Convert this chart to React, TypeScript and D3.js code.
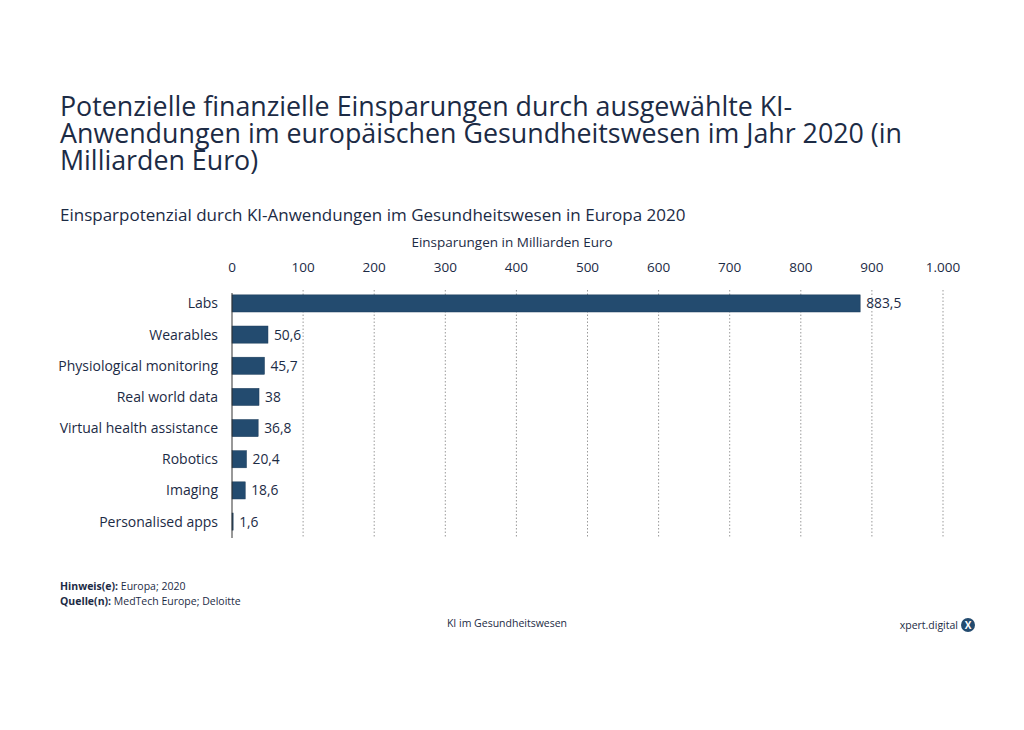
import * as d3 from 'd3';

const categories = [
  'Labs',
  'Wearables',
  'Physiological monitoring',
  'Real world data',
  'Virtual health assistance',
  'Robotics',
  'Imaging',
  'Personalised apps',
];
const savings = [883.5, 50.6, 45.7, 38, 36.8, 20.4, 18.6, 1.6];
const xTicks = [0, 100, 200, 300, 400, 500, 600, 700, 800, 900, 1000];

const titleLines = [
  'Potenzielle finanzielle Einsparungen durch ausgewählte KI-',
  'Anwendungen im europäischen Gesundheitswesen im Jahr 2020 (in',
  'Milliarden Euro)',
];

const font = '"Open Sans", "Noto Sans", sans-serif';
const textColor = '#1c2b45';
const barColor = '#234b6f';

const fmt = (v: number) => String(v).replace('.', ',');

export default function App() {
  const x = d3.scaleLinear().domain([0, 1000]).range([232, 943]);
  const y = d3.scaleBand().domain(categories).range([288, 537]).paddingInner(0.45).paddingOuter(0.22);

  const tickLabel = (t: number) => (t >= 1000 ? '1.000' : String(t));

  return (
    <svg width={1024} height={730} style={{ position: 'absolute', left: 0, top: 0, background: '#fff' }}>
      <g fontFamily={font} fill={textColor}>
        {titleLines.map((line, i) => (
          <text key={i} x={60} y={116 + i * 27} fontSize={26.8}>
            {line}
          </text>
        ))}
        <text x={60} y={221} fontSize={17}>
          Einsparpotenzial durch KI-Anwendungen im Gesundheitswesen in Europa 2020
        </text>
        <text x={512} y={247} fontSize={13.5} textAnchor="middle">
          Einsparungen in Milliarden Euro
        </text>
        {xTicks.map((t) => (
          <g key={t}>
            <text x={x(t)} y={272} fontSize={13.5} textAnchor="middle">
              {tickLabel(t)}
            </text>
            {t > 0 && (
              <line
                x1={x(t)}
                x2={x(t)}
                y1={290}
                y2={537}
                stroke="#9a9a9a"
                strokeWidth={1}
                strokeDasharray="1.5,2"
              />
            )}
          </g>
        ))}
        {categories.map((c, i) => {
          const by = y(c) ?? 0;
          const v = savings[i];
          return (
            <g key={c}>
              <text x={218} y={by + y.bandwidth() / 2 + 5} fontSize={14} textAnchor="end">
                {c}
              </text>
              <rect
                x={x(0)}
                y={by}
                width={Math.max(1, x(v) - x(0))}
                height={y.bandwidth()}
                fill={barColor}
                stroke="#1a3a58"
                strokeWidth={0.5}
              />
              <text x={x(v) + 6} y={by + y.bandwidth() / 2 + 5} fontSize={13.8}>
                {fmt(v)}
              </text>
            </g>
          );
        })}
        <line x1={x(0)} x2={x(0)} y1={293} y2={538} stroke="#333" strokeWidth={1} />

        <text x={60} y={590} fontSize={10.5}>
          <tspan fontWeight="bold">Hinweis(e):</tspan> Europa; 2020
        </text>
        <text x={60} y={605} fontSize={10.5}>
          <tspan fontWeight="bold">Quelle(n):</tspan> MedTech Europe; Deloitte
        </text>
        <text x={507} y={627} fontSize={10.5} textAnchor="middle">
          KI im Gesundheitswesen
        </text>
        <text x={958} y={629} fontSize={10.5} textAnchor="end">
          xpert.digital
        </text>
        <circle cx={968} cy={625} r={7} fill={barColor} />
        <text x={968} y={629} fontSize={10} textAnchor="middle" fill="#fff" fontWeight="bold">
          X
        </text>
      </g>
    </svg>
  );
}
